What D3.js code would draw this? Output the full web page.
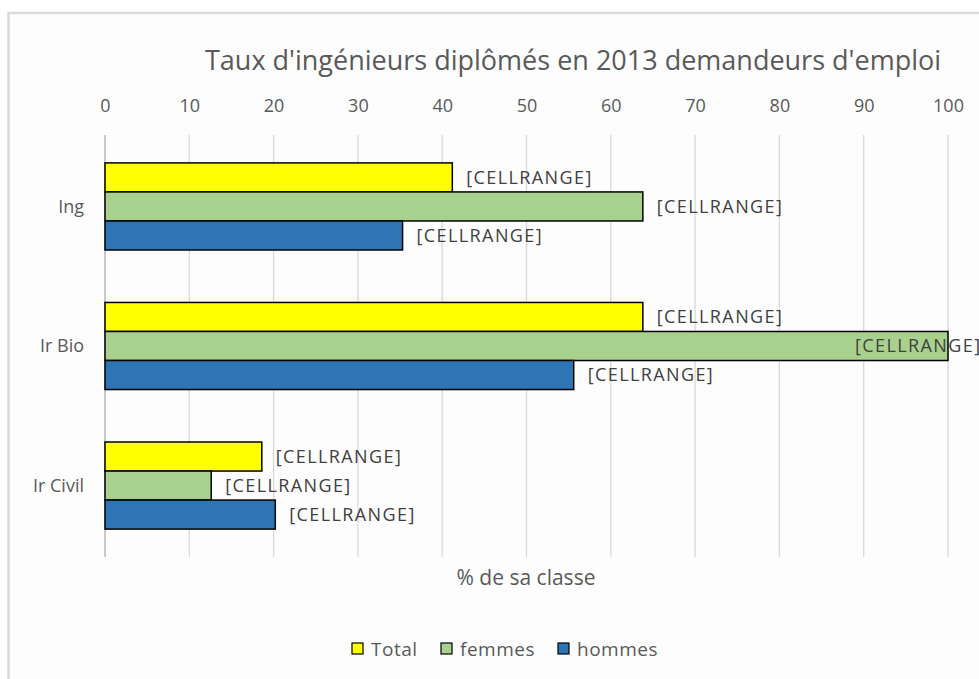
<!DOCTYPE html>
<html>
<head>
<meta charset="utf-8">
<script src="https://cdn.jsdelivr.net/npm/d3@7"></script>
<style>
  body { margin: 0; background: #fff; }
  text { font-family: "Liberation Sans Narrow", "Open Sans", "Noto Sans", sans-serif; }
</style>
</head>
<body>
<script>
var categories = ['Ing', 'Ir Bio', 'Ir Civil'];
var seriesNames = ['Total', 'femmes', 'hommes'];
var total = [41.2, 63.8, 18.6];
var femmes = [63.8, 100, 12.6];
var hommes = [35.3, 55.6, 20.2];
var tickValues = [0, 10, 20, 30, 40, 50, 60, 70, 80, 90, 100];
var colors = ['#ffff00', '#a9d18e', '#2e75b6'];
var labelText = '[CELLRANGE]';

var width = 979, height = 679;
var svg = d3.select('body').append('svg')
	.attr('width', width).attr('height', height);

// chart frame
svg.append('rect')
	.attr('x', 8.5).attr('y', 13)
	.attr('width', 1000).attr('height', 700)
	.attr('fill', '#fdfdfd')
	.attr('stroke', '#d9d9d9').attr('stroke-width', 2.5);

var x = d3.scaleLinear().domain([0, 100]).range([105, 948]);
var y0 = d3.scaleBand().domain(categories).range([135, 557]).paddingInner(0.376).paddingOuter(0.2);
var y1 = d3.scaleBand().domain(seriesNames).range([0, y0.bandwidth()]);

// gridlines
svg.append('g').selectAll('line')
	.data(tickValues).enter().append('line')
	.attr('x1', function (d) { return x(d); })
	.attr('x2', function (d) { return x(d); })
	.attr('y1', 135).attr('y2', 557)
	.attr('stroke', function (d) { return d === 0 ? '#c8c8c8' : '#d9d9d9'; })
	.attr('stroke-width', function (d) { return d === 0 ? 2 : 1.3; });

// top axis labels
var axis = d3.axisTop(x).tickValues(tickValues).tickSize(0).tickPadding(0);
var gAxis = svg.append('g').attr('transform', 'translate(0,112)').call(axis);
gAxis.select('.domain').remove();
gAxis.selectAll('text')
	.attr('fill', '#595959')
	.style('font-size', '18px');

// category labels
svg.append('g').selectAll('text')
	.data(categories).enter().append('text')
	.attr('x', 84)
	.attr('y', function (d) { return y0(d) + y0.bandwidth() / 2; })
	.attr('dy', '0.35em')
	.attr('text-anchor', 'end')
	.attr('fill', '#595959')
	.style('font-size', '18px')
	.text(function (d) { return d; });

var rows = [];
categories.forEach(function (c, i) {
	[total, femmes, hommes].forEach(function (s, j) {
		rows.push({cat: c, name: seriesNames[j], value: s[i], color: colors[j]});
	});
});

var bars = svg.append('g').selectAll('g')
	.data(rows).enter().append('g')
	.attr('transform', function (d) { return 'translate(0,' + (y0(d.cat) + y1(d.name)) + ')'; });

bars.append('rect')
	.attr('x', x(0))
	.attr('width', function (d) { return x(d.value) - x(0); })
	.attr('height', y1.bandwidth())
	.attr('fill', function (d) { return d.color; })
	.attr('stroke', '#000').attr('stroke-width', 1.5);

bars.append('text')
	.attr('x', function (d) { return Math.min(x(d.value) + 14, width - 124); })
	.attr('y', y1.bandwidth() / 2)
	.attr('dy', '0.35em')
	.attr('fill', '#404040')
	.style('font-size', '18px')
	.style('letter-spacing', '1.4px')
	.text(labelText);

// title
svg.append('text')
	.attr('x', 573).attr('y', 70)
	.attr('text-anchor', 'middle')
	.attr('fill', '#595959')
	.style('font-size', '27px')
	.text("Taux d'ingénieurs diplômés en 2013 demandeurs d'emploi");

// axis title
svg.append('text')
	.attr('x', 526).attr('y', 585)
	.attr('text-anchor', 'middle')
	.attr('fill', '#595959')
	.style('font-size', '21px')
	.text('% de sa classe');

// legend
var legendX = [352, 441, 558];
var legend = svg.append('g').selectAll('g')
	.data(seriesNames).enter().append('g')
	.attr('transform', function (d, i) { return 'translate(' + legendX[i] + ',643)'; });
legend.append('rect')
	.attr('width', 11).attr('height', 11)
	.attr('fill', function (d, i) { return colors[i]; })
	.attr('stroke', '#000').attr('stroke-width', 1.2);
legend.append('text')
	.attr('x', 19).attr('y', 6)
	.attr('dy', '0.35em')
	.attr('fill', '#595959')
	.style('font-size', '19px')
	.style('letter-spacing', '0.5px')
	.text(function (d) { return d; });
</script>
</body>
</html>
